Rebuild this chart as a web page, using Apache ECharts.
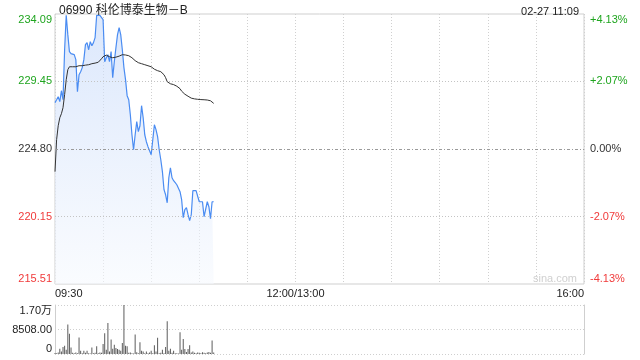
<!DOCTYPE html>
<html>
<head>
<meta charset="utf-8">
<script src="https://cdn.jsdelivr.net/npm/echarts@6/dist/echarts.min.js"></script>
<style>html,body{margin:0;padding:0;background:#fff}#c{width:640px;height:360px}</style>
</head>
<body>
<div id="c"></div>
<script>
// ---- data ----
const titleText = '06990 科伦博泰生物－B';
const stampText = '02-27 11:09';
const prevClose = 224.80;
const priceTicks = [215.51, 220.15, 224.80, 229.45, 234.09];
const priceTickLabels = ['215.51', '220.15', '224.80', '229.45', '234.09'];
const pctTickLabels = ['-4.13%', '-2.07%', '0.00%', '+2.07%', '+4.13%'];
const timeTicks = [0, 150, 330];           // minutes of trading from 09:30 (lunch break removed)
const timeTickLabels = ['09:30', '12:00/13:00', '16:00'];
const volTicks = [0, 8508, 17016];
const volTickLabels = ['0', '8508.00', '1.70万'];

// one value per trading minute, 09:30 .. 11:09
const price = [
  227.99,228.19,228.40,228.06,228.81,228.19,231.63,234.00,232.67,231.50,
  231.36,231.29,231.29,230.95,228.74,229.91,230.12,230.40,230.95,231.98,
  232.12,231.63,232.19,231.91,232.12,232.46,234.00,234.00,234.00,234.00,
  233.70,230.81,231.08,231.29,230.81,231.50,229.71,230.81,231.77,232.67,
  233.15,232.67,231.63,230.40,229.57,228.47,228.19,227.16,225.78,224.75,
  225.78,226.68,225.99,226.40,227.78,226.95,225.78,225.30,224.96,225.03,
  224.41,225.44,226.47,226.13,225.65,224.75,224.06,223.24,222.00,221.65,
  221.10,222.82,223.51,222.82,222.62,222.48,222.34,222.21,221.86,221.31,
  220.07,220.62,220.76,220.28,219.87,220.28,221.93,221.93,221.93,221.93,
  221.17,221.17,221.17,220.14,220.14,221.17,220.83,220.00,221.17,221.17
];
const avgPrice = [
  223.24,225.44,226.40,226.95,227.23,227.64,228.54,229.57,230.26,230.46,
  230.46,230.46,230.46,230.46,230.46,230.53,230.53,230.53,230.53,230.57,
  230.60,230.60,230.64,230.67,230.67,230.71,230.74,230.77,230.88,231.01,
  231.15,231.26,231.26,231.22,231.15,231.12,231.08,231.08,231.12,231.15,
  231.19,231.26,231.29,231.29,231.27,231.26,231.22,231.15,231.08,230.95,
  230.88,230.81,230.74,230.71,230.67,230.64,230.60,230.58,230.53,230.50,
  230.46,230.40,230.29,230.22,230.19,230.15,230.12,230.05,229.91,229.71,
  229.43,229.36,229.29,229.26,229.23,229.16,229.12,229.09,228.95,228.78,
  228.68,228.57,228.52,228.43,228.33,228.30,228.26,228.25,228.23,228.22,
  228.21,228.20,228.19,228.19,228.18,228.17,228.17,228.12,228.02,227.94
];
const volume = [
  350,300,500,1860,900,2450,2900,1500,10250,7000,
  2300,400,300,500,300,5700,1150,300,1150,400,
  1150,300,200,2300,300,400,2650,300,500,400,
  3500,7200,1500,10800,900,5000,1850,3250,2100,1750,
  1500,1150,3850,17016,2900,2650,400,500,300,200,
  6750,600,300,4050,1150,900,300,900,300,500,
  1150,300,3000,900,5600,300,400,1500,300,2450,
  11400,1150,1850,400,1150,300,300,200,7550,1500,
  5250,1750,700,1750,3000,500,900,400,300,500,
  400,300,600,400,300,500,700,400,4650,500
];

// ---- chart ----
const FONT = "'Liberation Sans', Arial, 'Noto Sans CJK SC', sans-serif";
const GREEN = '#1fa51f', RED = '#f03a3a', DARK = '#333';
const minutesIdx = price.map((_, i) => i);
const pick = (ticks, v) => {
  let k = 0, best = Infinity;
  ticks.forEach((t, i) => { const d = Math.abs(t - v); if (d < best) { best = d; k = i; } });
  return k;
};
const richStyles = {
  g: { color: GREEN, fontSize: 11, fontFamily: FONT },
  r: { color: RED, fontSize: 11, fontFamily: FONT },
  k: { color: DARK, fontSize: 11, fontFamily: FONT }
};
const tone = (v) => v > prevClose + 1e-6 ? 'g' : (v < prevClose - 1e-6 ? 'r' : 'k');
const nTickSteps = priceTicks.length - 1;
const dotted = { color: '#c4c4c4', type: [1, 2], width: 1 };

const chart = echarts.init(document.getElementById('c'), null, { renderer: 'canvas' });
chart.setOption({
  animation: false,
  backgroundColor: '#fff',
  textStyle: { fontFamily: FONT },
  title: [
    { text: titleText, left: 54, top: 0, textStyle: { fontSize: 12, fontWeight: 'normal', color: '#222', fontFamily: FONT } },
    { text: stampText, right: 56, top: 1, textStyle: { fontSize: 11, fontWeight: 'normal', color: '#222', fontFamily: FONT } }
  ],
  graphic: [
    { type: 'text', left: 533, top: 273, silent: true,
      style: { text: 'sina.com', fill: '#d0d0d0', fontSize: 11, fontFamily: FONT } }
  ],
  grid: [
    { left: 55, right: 56, top: 14, height: 270, show: true, borderColor: '#cfcfcf', borderWidth: 1, backgroundColor: 'transparent' },
    { left: 55, right: 56, top: 305, height: 49, show: false }
  ],
  xAxis: [
    { type: 'value', gridIndex: 0, min: 0, max: 330, interval: 30,
      axisLine: { show: false }, axisTick: { show: false },
      splitLine: { show: true, lineStyle: { color: '#d0d0d0', type: [1, 2], width: 1 } },
      axisLabel: { show: true, customValues: timeTicks, margin: 4, color: '#222', fontSize: 11, fontFamily: FONT,
        alignMinLabel: 'left', alignMaxLabel: 'right',
        formatter: (v) => timeTickLabels[pick(timeTicks, v)] } },
    { type: 'value', gridIndex: 1, min: 0, max: 330, interval: 30,
      axisLine: { show: false }, axisTick: { show: false }, axisLabel: { show: false }, splitLine: { show: false } }
  ],
  yAxis: [
    { type: 'value', gridIndex: 0, min: priceTicks[0], max: priceTicks[nTickSteps],
      axisLine: { show: false }, axisTick: { show: false }, splitLine: { show: false },
      axisLabel: { customValues: priceTicks, margin: 3, fontSize: 11, fontFamily: FONT,
        verticalAlignMinLabel: 'bottom', verticalAlignMaxLabel: 'top',
        formatter: (v) => { const i = pick(priceTicks, v); return '{' + tone(priceTicks[i]) + '|' + priceTickLabels[i] + '}'; },
        rich: richStyles } },
    { type: 'value', gridIndex: 0, position: 'right', min: priceTicks[0], max: priceTicks[nTickSteps],
      axisLine: { show: false }, axisTick: { show: false }, splitLine: { show: false },
      axisLabel: { customValues: priceTicks, margin: 6, fontSize: 11, fontFamily: FONT,
        verticalAlignMinLabel: 'bottom', verticalAlignMaxLabel: 'top',
        formatter: (v) => { const i = pick(priceTicks, v); return '{' + tone(priceTicks[i]) + '|' + pctTickLabels[i] + '}'; },
        rich: richStyles } },
    { type: 'value', gridIndex: 1, min: volTicks[0], max: volTicks[volTicks.length - 1], interval: volTicks[1] - volTicks[0],
      axisLine: { show: true, lineStyle: { color: '#cfcfcf' } }, axisTick: { show: false },
      splitLine: { show: true, lineStyle: { color: '#cfcfcf', type: [1, 2] } },
      axisLabel: { margin: 3, color: '#222', fontSize: 11, fontFamily: FONT,
        verticalAlignMinLabel: 'bottom', verticalAlignMaxLabel: 'top',
        formatter: (v) => volTickLabels[pick(volTicks, v)] } },
    { type: 'value', gridIndex: 1, position: 'right', min: volTicks[0], max: volTicks[volTicks.length - 1], interval: volTicks[1] - volTicks[0],
      axisLine: { show: true, lineStyle: { color: '#cfcfcf' } }, axisTick: { show: false },
      splitLine: { show: false }, axisLabel: { show: false } }
  ],
  series: [
    { type: 'line', name: 'price', xAxisIndex: 0, yAxisIndex: 0,
      data: minutesIdx.map(i => [i, price[i]]),
      symbol: 'none', smooth: false,
      lineStyle: { color: '#4a8cf2', width: 1.2 },
      areaStyle: { origin: 'start', color: new echarts.graphic.LinearGradient(0, 0, 0, 1, [
        { offset: 0, color: 'rgba(196,216,250,0.85)' },
        { offset: 1, color: 'rgba(246,249,254,0.8)' }
      ]) },
      markLine: { silent: true, symbol: 'none', label: { show: false },
        data: [
          { yAxis: priceTicks[1], lineStyle: dotted },
          { yAxis: priceTicks[3], lineStyle: dotted },
          { yAxis: prevClose, lineStyle: { color: '#9a9a9a', type: [3, 2, 1, 2], width: 1 } }
        ] },
      z: 2 },
    { type: 'line', name: 'avg', xAxisIndex: 0, yAxisIndex: 0,
      data: minutesIdx.map(i => [i, avgPrice[i]]),
      symbol: 'none', lineStyle: { color: '#333', width: 1 }, z: 3 },
    { type: 'bar', name: 'vol', xAxisIndex: 1, yAxisIndex: 2,
      data: minutesIdx.map(i => [i, volume[i]]),
      barWidth: 1, itemStyle: { color: '#5c5c5c' } }
  ]
});
</script>
</body>
</html>
